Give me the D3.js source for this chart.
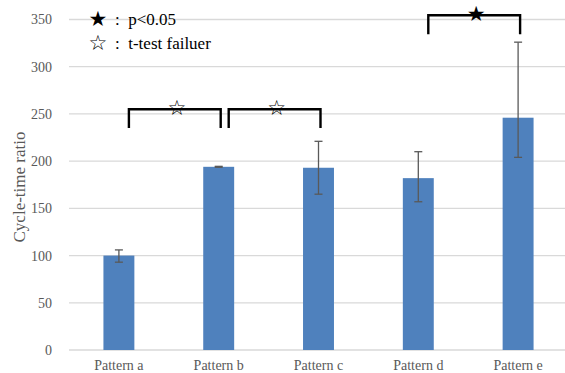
<!DOCTYPE html>
<html>
<head>
<meta charset="utf-8">
<script src="https://cdn.jsdelivr.net/npm/d3@7/dist/d3.min.js"></script>
<style>
  body { margin: 0; background: #fff; }
</style>
</head>
<body>
<div id="chart"></div>
<script>
var categories = ["Pattern a", "Pattern b", "Pattern c", "Pattern d", "Pattern e"];
var values = [100, 194, 193, 182, 246];
var errUpper = [6, 0.5, 28, 28, 80];
var errLower = [7, 0.5, 28, 25, 42];
var yTicks = [0, 50, 100, 150, 200, 250, 300, 350];
var brackets = [
  { from: "Pattern a", to: "Pattern b", level: 255, symbol: "☆" },
  { from: "Pattern b", to: "Pattern c", level: 255, symbol: "☆" },
  { from: "Pattern d", to: "Pattern e", level: 354.5, symbol: "★" }
];
var legendItems = [
  { symbol: "★", label: "p<0.05" },
  { symbol: "☆", label: "t-test failuer" }
];

var width = 565, height = 373;
var margin = { top: 19.5, left: 69, bottom: 23 };
var serif = "'Liberation Serif', 'Times New Roman', serif";

var svg = d3.select("#chart").append("svg")
  .attr("width", width)
  .attr("height", height);

var yScale = d3.scaleLinear()
  .domain([0, 350])
  .range([height - margin.bottom, margin.top]);

var xScale = d3.scaleBand()
  .domain(categories)
  .range([margin.left, 568])
  .paddingInner(0.69)
  .paddingOuter(0.345);

// gridlines
svg.append("g")
  .selectAll("line")
  .data(yTicks)
  .enter()
  .append("line")
  .attr("x1", margin.left)
  .attr("x2", 568)
  .attr("y1", (d) => yScale(d))
  .attr("y2", (d) => yScale(d))
  .attr("stroke", "#d9d9d9")
  .attr("stroke-width", 1.3);

// y axis labels
var yAxis = d3.axisLeft(yScale)
  .tickValues(yTicks)
  .tickSize(0)
  .tickPadding(17);

svg.append("g")
  .attr("transform", "translate(" + margin.left + ",0)")
  .call(yAxis)
  .call((g) => g.select(".domain").remove())
  .selectAll("text")
  .style("font-family", serif)
  .style("font-size", "14px")
  .attr("fill", "#595959");

// x axis labels
var xAxis = d3.axisBottom(xScale).tickSize(0).tickPadding(10);
svg.append("g")
  .attr("transform", "translate(0," + yScale(0) + ")")
  .call(xAxis)
  .call((g) => g.select(".domain").remove())
  .selectAll("text")
  .style("font-family", serif)
  .style("font-size", "14px")
  .attr("fill", "#595959");

// y title
svg.append("text")
  .attr("transform", "translate(25," + 187 + ") rotate(-90)")
  .attr("text-anchor", "middle")
  .style("font-family", serif)
  .style("font-size", "17px")
  .style("fill", "#595959")
  .text("Cycle-time ratio");

// bars
svg.append("g")
  .selectAll("rect")
  .data(values)
  .enter()
  .append("rect")
  .attr("x", (d, i) => xScale(categories[i]))
  .attr("width", xScale.bandwidth())
  .attr("y", (d) => yScale(d))
  .attr("height", (d) => yScale(0) - yScale(d))
  .attr("fill", "#4f81bd");

// error bars
var errG = svg.append("g")
  .attr("stroke", "#595959")
  .attr("stroke-width", 1.3);
values.forEach((v, i) => {
  var cx = xScale(categories[i]) + xScale.bandwidth() / 2;
  var top = yScale(v + errUpper[i]);
  var bot = yScale(v - errLower[i]);
  errG.append("line").attr("x1", cx).attr("x2", cx).attr("y1", top).attr("y2", bot);
  errG.append("line").attr("x1", cx - 4).attr("x2", cx + 4).attr("y1", top).attr("y2", top);
  errG.append("line").attr("x1", cx - 4).attr("x2", cx + 4).attr("y1", bot).attr("y2", bot);
});

// significance brackets
var legDrop = 20;
brackets.forEach((b) => {
  var x0 = xScale(b.from) + xScale.bandwidth() / 2 + 10;
  var x1 = xScale(b.to) + xScale.bandwidth() / 2 + 2;
  var yTop = yScale(b.level);
  var yLeg = yScale(b.level - legDrop);
  svg.append("path")
    .attr("d", "M" + x0 + "," + yLeg + "V" + yTop + "H" + x1 + "V" + yLeg)
    .attr("fill", "none")
    .attr("stroke", "#000")
    .attr("stroke-width", 2.4);
  svg.append("text")
    .attr("x", (x0 + x1) / 2 + 2)
    .attr("y", yTop + 6)
    .attr("text-anchor", "middle")
    .style("font-family", "'DejaVu Sans', sans-serif")
    .style("font-size", "21px")
    .style("fill", "#000")
    .text(b.symbol);
});

// legend
var legend = svg.append("g");
legendItems.forEach((d, i) => {
  var y = 25 + 23.5 * i;
  legend.append("text")
    .attr("x", 98)
    .attr("y", y + 1)
    .attr("text-anchor", "middle")
    .style("font-family", "'DejaVu Sans', sans-serif")
    .style("font-size", "21px")
    .style("fill", "#000")
    .text(d.symbol);
  legend.append("text")
    .attr("x", 115)
    .attr("y", y)
    .style("font-family", serif)
    .style("font-size", "17px")
    .style("fill", "#000")
    .text(":\u00a0\u00a0" + d.label);
});
</script>
</body>
</html>
